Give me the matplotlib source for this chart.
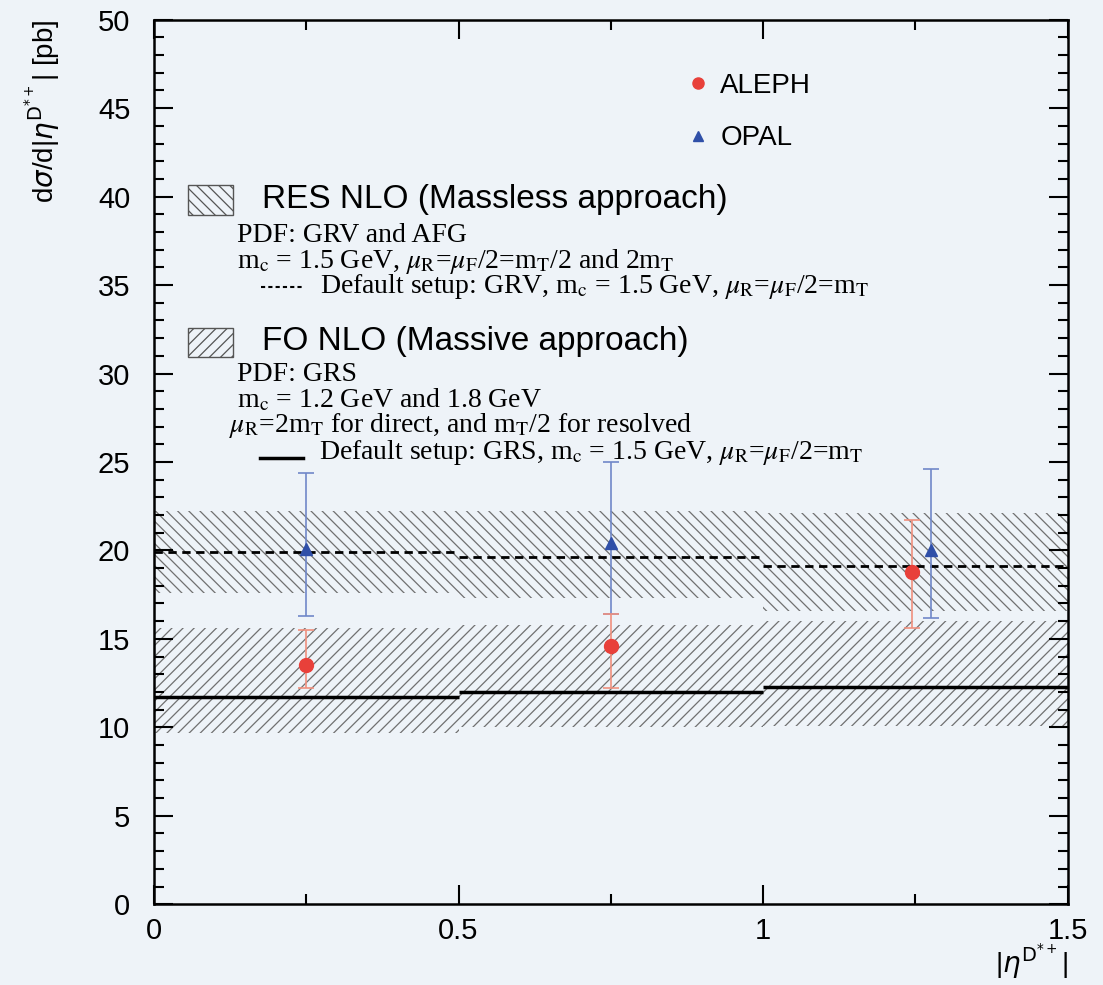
import matplotlib
matplotlib.use("Agg")
import matplotlib.pyplot as plt
from matplotlib.lines import Line2D
from matplotlib.patches import Rectangle
from matplotlib.ticker import MultipleLocator

# bins in |eta|
bin_lo = [0.0, 0.5, 1.0]
bin_hi = [0.5, 1.0, 1.5]

# RES NLO (massless) band and default curve
res_low = [17.6, 17.3, 16.6]
res_high = [22.2, 22.2, 22.1]
res_def = [19.9, 19.6, 19.1]

# FO NLO (massive) band and default curve
fo_low = [9.7, 10.0, 10.1]
fo_high = [15.6, 15.8, 16.0]
fo_def = [11.7, 12.0, 12.3]

# data points
aleph_x = [0.25, 0.75, 1.245]
aleph_y = [13.5, 14.6, 18.8]
aleph_lo = [1.3, 2.4, 3.2]
aleph_hi = [2.0, 1.8, 2.9]

opal_x = [0.25, 0.75, 1.275]
opal_y = [20.1, 20.4, 20.0]
opal_lo = [3.8, 4.0, 3.8]
opal_hi = [4.3, 4.6, 4.6]

bg = "#eef3f8"
red = "#e8403a"
blue = "#2f4fa8"
hatch_col = "#707070"
plt.rcParams["hatch.linewidth"] = 0.9
plt.rcParams["font.family"] = ["Liberation Sans", "DejaVu Sans"]

fig = plt.figure(figsize=(11.03, 9.85), dpi=100, facecolor=bg)
ax = fig.add_axes([0.1396, 0.082, 0.8284, 0.898])
ax.set_facecolor(bg)

for i in range(len(bin_lo)):
    ax.fill_between([bin_lo[i], bin_hi[i]], res_low[i], res_high[i],
                    facecolor="none", edgecolor=hatch_col, hatch="\\\\\\", linewidth=0)
    ax.fill_between([bin_lo[i], bin_hi[i]], fo_low[i], fo_high[i],
                    facecolor="none", edgecolor=hatch_col, hatch="///", linewidth=0)
ax.hlines(res_def, bin_lo, bin_hi, colors="black", linestyles=(0, (3, 2)), linewidth=2)
ax.hlines(fo_def, bin_lo, bin_hi, colors="black", linewidth=2.5)

ax.errorbar(opal_x, opal_y, yerr=[opal_lo, opal_hi], fmt="^", color=blue, ms=8,
            ecolor="#7088c8", elinewidth=1.2, capsize=6, capthick=1.2, zorder=5)
ax.errorbar(aleph_x, aleph_y, yerr=[aleph_lo, aleph_hi], fmt="o", color=red, ms=10,
            ecolor="#f0907e", elinewidth=1.2, capsize=6, capthick=1.2, zorder=6)

ax.set_xlim(0, 1.5)
ax.set_ylim(0, 50)
ax.set_xticks([0, 0.5, 1, 1.5])
ax.set_xticklabels(["0", "0.5", "1", "1.5"])
ax.xaxis.set_minor_locator(MultipleLocator(0.25))
ax.yaxis.set_major_locator(MultipleLocator(5))
ax.yaxis.set_minor_locator(MultipleLocator(1))
ax.tick_params(which="both", direction="in", top=True, right=True, width=1.5)
ax.tick_params(which="major", length=14)
ax.tick_params(which="minor", length=7)
ax.tick_params(axis="y", labelsize=21, pad=17)
ax.tick_params(axis="x", labelsize=21, pad=9)
for s in ax.spines.values():
    s.set_linewidth(1.8)

ax.set_ylabel(r"d$\sigma$/d|$\eta^{\mathrm{D^{*+}}}$| [pb]", fontsize=20, loc="top", labelpad=26)
ax.set_xlabel(r"|$\eta^{\mathrm{D^{*+}}}$|", fontsize=20, loc="right", labelpad=-2)

# legend for data
handles = [Line2D([], [], marker="o", color=red, ls="none", ms=8),
           Line2D([], [], marker="^", color=blue, ls="none", ms=7)]
ax.legend(handles, ["ALEPH", "OPAL"], loc="upper left", bbox_to_anchor=(0.553, 0.968),
          frameon=False, fontsize=20, handlelength=1.0, handletextpad=0.3, labelspacing=0.95)

# theory descriptions
serif = dict(family="Liberation Serif", fontsize=20, math_fontfamily="stix",
             transform=ax.transAxes, va="center")
sans = dict(fontsize=24, transform=ax.transAxes, va="center")

ax.add_patch(Rectangle((0.037, 0.779), 0.050, 0.034, transform=ax.transAxes,
                       facecolor="none", edgecolor="#555555", hatch="\\\\\\", linewidth=1))
ax.text(0.118, 0.797, "RES NLO (Massless approach)", **sans)
ax.text(0.091, 0.756, "PDF: GRV and AFG", **serif)
ax.text(0.091, 0.727, r"m$_{\rm c}$ = 1.5 GeV, $\mu_{\rm R}$=$\mu_{\rm F}$/2=m$_{\rm T}$/2 and 2m$_{\rm T}$", **serif)
ax.plot([0.117, 0.163], [0.698, 0.698], transform=ax.transAxes, color="black",
        ls=(0, (2, 1.5)), lw=1.5)
ax.text(0.182, 0.698, r"Default setup: GRV, m$_{\rm c}$ = 1.5 GeV, $\mu_{\rm R}$=$\mu_{\rm F}$/2=m$_{\rm T}$", **serif)

ax.add_patch(Rectangle((0.037, 0.619), 0.050, 0.032, transform=ax.transAxes,
                       facecolor="none", edgecolor="#555555", hatch="///", linewidth=1))
ax.text(0.118, 0.636, "FO NLO (Massive approach)", **sans)
ax.text(0.091, 0.599, "PDF: GRS", **serif)
ax.text(0.091, 0.570, r"m$_{\rm c}$ = 1.2 GeV and 1.8 GeV", **serif)
ax.text(0.082, 0.541, r"$\mu_{\rm R}$=2m$_{\rm T}$ for direct, and m$_{\rm T}$/2 for resolved", **serif)
ax.plot([0.116, 0.163], [0.505, 0.505], transform=ax.transAxes, color="black", lw=2.5)
ax.text(0.181, 0.511, r"Default setup: GRS, m$_{\rm c}$ = 1.5 GeV, $\mu_{\rm R}$=$\mu_{\rm F}$/2=m$_{\rm T}$", **serif)

fig.savefig("out.png", dpi=100, facecolor=bg)
